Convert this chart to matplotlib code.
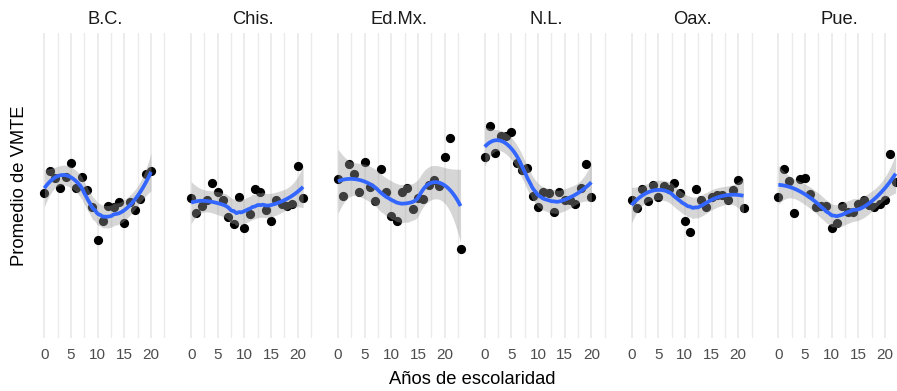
import numpy as np
import matplotlib
matplotlib.use("Agg")
import matplotlib.pyplot as plt

plt.rcParams['font.family'] = ['Liberation Sans', 'DejaVu Sans']

# estados (facetas)
estados = ['B.C.', 'Chis.', 'Ed.Mx.', 'N.L.', 'Oax.', 'Pue.']

# años de escolaridad por estado
anios_bc = list(range(0, 21))
anios_chis = list(range(0, 22))
anios_edmx = list(range(0, 22)) + [23]
anios_nl = list(range(0, 21))
anios_oax = list(range(0, 22))
anios_pue = list(range(0, 23))

# promedio de VMTE (unidades)
vmte_bc = [47.6, 54.8, 52.5, 49.2, 52.8, 57.5, 49.3, 52.8, 48.5, 43.0, 32.0,
           38.5, 43.3, 43.0, 44.7, 37.6, 44.7, 42.0, 45.5, 53.8, 54.8]
vmte_chis = [46.0, 41.1, 43.3, 45.2, 50.7, 47.8, 45.2, 39.6, 37.4, 46.1, 36.0,
             40.7, 48.8, 47.9, 42.0, 38.5, 45.2, 43.9, 43.3, 43.9, 56.5, 46.0]
vmte_edmx = [52.1, 46.7, 57.0, 53.8, 47.8, 57.7, 49.4, 45.0, 55.3, 48.0, 40.0,
             38.5, 47.8, 49.3, 42.3, 46.0, 45.6, 50.2, 51.8, 49.8, 59.4, 65.5, 29.2]
vmte_nl = [59.4, 69.5, 60.6, 66.2, 66.2, 67.4, 57.5, 55.1, 55.6, 46.6, 43.0,
           48.0, 47.6, 41.4, 48.0, 45.2, 45.2, 43.9, 49.1, 57.0, 46.1]
vmte_oax = [45.2, 42.7, 48.8, 45.0, 50.2, 46.3, 49.8, 48.8, 50.7, 47.6, 38.5,
            34.9, 48.8, 45.2, 42.9, 46.3, 46.9, 46.9, 45.2, 48.5, 51.7, 42.5]
vmte_pue = [46.3, 55.3, 51.5, 40.9, 52.0, 52.4, 47.1, 42.9, 43.3, 43.3, 36.2,
            37.8, 43.3, 41.4, 41.4, 43.8, 45.2, 43.6, 43.0, 43.9, 45.2, 60.3, 51.2]

anios = [anios_bc, anios_chis, anios_edmx, anios_nl, anios_oax, anios_pue]
vmte = [vmte_bc, vmte_chis, vmte_edmx, vmte_nl, vmte_oax, vmte_pue]


def loess_rows(x, pts, span=0.75):
    # filas de la matriz suavizadora (regresion local cuadratica, pesos tricubicos)
    n = len(x)
    q = int(np.floor(n * span))
    L = np.zeros((len(pts), n))
    for i, x0 in enumerate(pts):
        d = np.abs(x - x0)
        h = np.sort(d)[q - 1] * 1.0001
        w = np.clip(1 - (d / h) ** 3, 0, None) ** 3
        X = np.column_stack([np.ones(n), x - x0, (x - x0) ** 2])
        A = X.T @ (X * w[:, None])
        L[i] = np.linalg.solve(A, (X * w[:, None]).T)[0]
    return L


def t975(df):
    z = 1.959964
    return (z + (z**3 + z) / (4 * df) + (5 * z**5 + 16 * z**3 + 3 * z) / (96 * df**2)
            + (3 * z**7 + 19 * z**5 + 17 * z**3 - 15 * z) / (384 * df**3))


def loess_smooth(x, y, ngrid=80):
    x = np.asarray(x, float)
    y = np.asarray(y, float)
    n = len(x)
    Lx = loess_rows(x, x)
    res = y - Lx @ y
    IL = np.eye(n) - Lx
    M = IL.T @ IL
    d1 = np.trace(M)
    d2 = np.trace(M @ M)
    s = np.sqrt(np.sum(res ** 2) / d1)
    xg = np.linspace(x.min(), x.max(), ngrid)
    Lg = loess_rows(x, xg)
    fit = Lg @ y
    se = s * np.sqrt(np.sum(Lg ** 2, axis=1))
    t = t975(d1 ** 2 / d2)
    return xg, fit, fit - t * se, fit + t * se


W, H = 897, 391
fig = plt.figure(figsize=(W / 100, H / 100), dpi=100)

left0, step, pw = 38.2, 146.8, 134.9
top, bottom = 33, 338

for k, (nombre, xs, ys) in enumerate(zip(estados, anios, vmte)):
    ax = fig.add_axes([(left0 + k * step) / W, (H - bottom) / H, pw / W, (bottom - top) / H])
    ax.scatter(xs, ys, s=44, color='black', linewidths=0, zorder=2)
    xg, fit, lo, hi = loess_smooth(xs, ys)
    ax.fill_between(xg, lo, hi, color='#999999', alpha=0.4, linewidth=0, zorder=3)
    ax.plot(xg, fit, color='#3366FF', lw=2.7, zorder=4, solid_capstyle='butt')

    ax.set_xlim(-1.15, 24.15)
    ax.set_ylim(0, 100)
    ax.set_xticks([0, 5, 10, 15, 20])
    ax.set_xticks([2.5, 7.5, 12.5, 17.5, 22.5], minor=True)
    ax.set_yticks([])
    ax.grid(True, which='major', axis='x', color='#EBEBEB', lw=1.3, zorder=0)
    ax.grid(True, which='minor', axis='x', color='#EBEBEB', lw=1.0, zorder=0)
    ax.set_axisbelow(True)
    ax.tick_params(axis='x', which='both', length=0, pad=7.5, labelsize=11,
                   labelcolor='#4D4D4D')
    for sp in ax.spines.values():
        sp.set_visible(False)
    ax.text(0.5, 1.043, nombre, transform=ax.transAxes, ha='center', va='center',
            fontsize=13.2, color='#1A1A1A')

fig.text(472 / W, 1 - 380 / H, 'Años de escolaridad', ha='center', va='center',
         fontsize=13.2, color='black')
fig.text(20 / W, 1 - 186 / H, 'Promedio de VMTE', ha='center', va='center',
         rotation=90, fontsize=13.2, color='black')

fig.savefig('out.png', dpi=100)
